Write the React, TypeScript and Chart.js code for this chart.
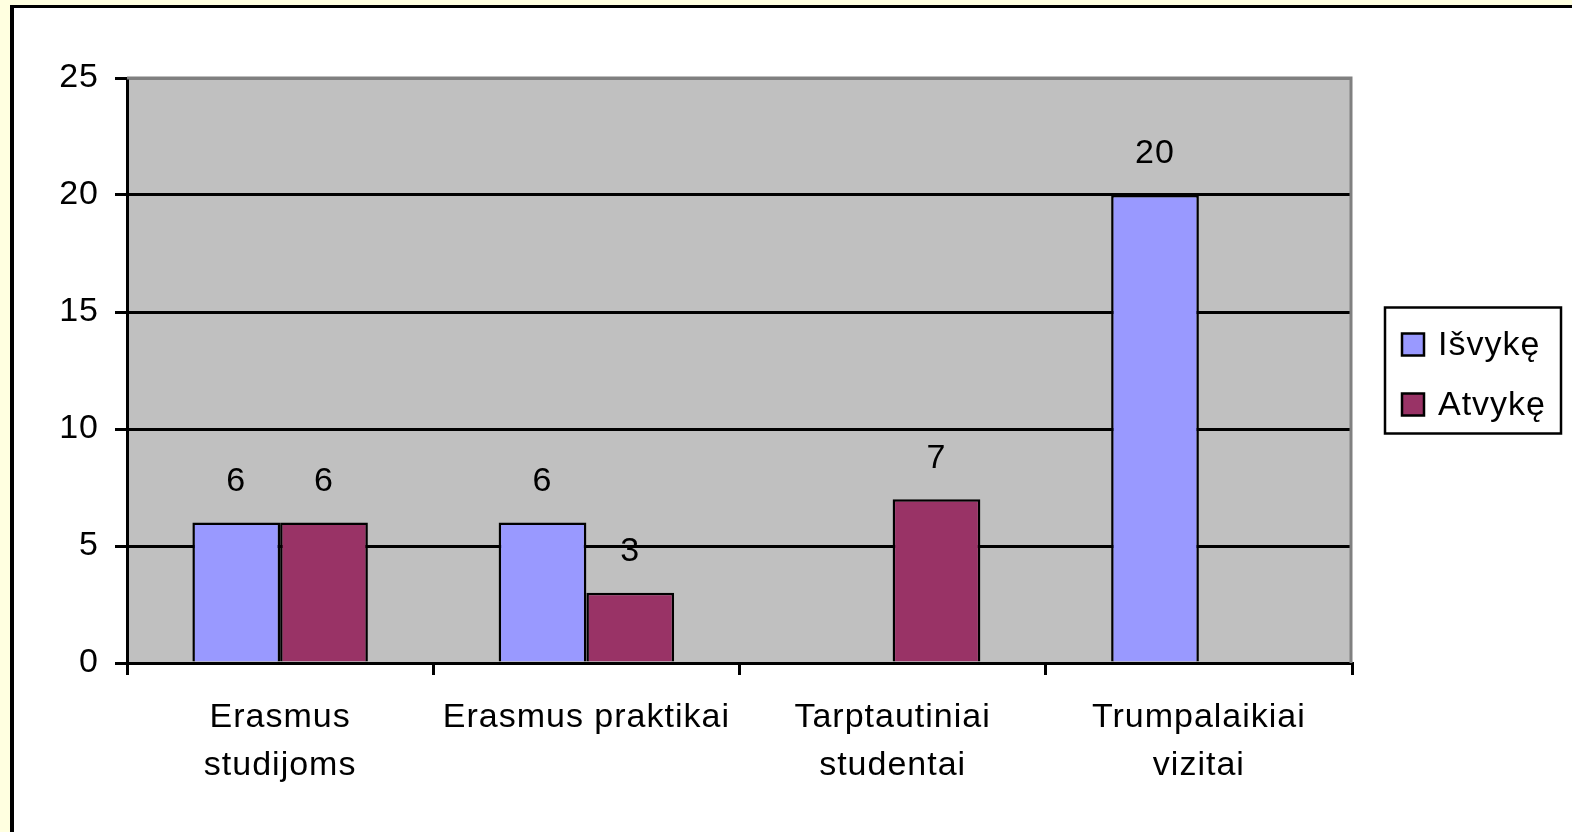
import React, { useEffect, useRef } from "react";
import { Chart, registerables } from "chart.js";

Chart.register(...registerables);

const categories: (string | string[])[] = [
  ["Erasmus", "studijoms"],
  "Erasmus praktikai",
  ["Tarptautiniai", "studentai"],
  ["Trumpalaikiai", "vizitai"],
];
const isvyke: (number | null)[] = [6, 6, null, 20];
const atvyke: (number | null)[] = [6, 3, 7, null];
const seriesNames = ["Išvykę", "Atvykę"];
const yTicks = [0, 5, 10, 15, 20, 25];

const FONT_FAMILY = "'Liberation Sans', Arial, sans-serif";
const FONT_SIZE = 34;
const SPACING = "1px";

const plotBg = {
  id: "plotBg",
  beforeDraw(chart: any) {
    const { ctx, chartArea } = chart;
    (ctx as any).letterSpacing = SPACING;
    ctx.save();
    ctx.fillStyle = "#C0C0C0";
    ctx.fillRect(chartArea.left, chartArea.top, chartArea.right - chartArea.left, chartArea.bottom - chartArea.top);
    ctx.restore();
  },
  beforeDatasetsDraw(chart: any) {
    const { ctx, chartArea } = chart;
    ctx.save();
    ctx.strokeStyle = "#808080";
    ctx.lineWidth = 3;
    ctx.beginPath();
    ctx.moveTo(chartArea.left, chartArea.top);
    ctx.lineTo(chartArea.right - 1, chartArea.top);
    ctx.lineTo(chartArea.right - 1, chartArea.bottom);
    ctx.stroke();
    ctx.restore();
  },
};

const valueLabels = {
  id: "valueLabels",
  afterDatasetsDraw(chart: any) {
    const { ctx } = chart;
    ctx.save();
    (ctx as any).letterSpacing = SPACING;
    ctx.font = `${FONT_SIZE}px ${FONT_FAMILY}`;
    ctx.fillStyle = "#000";
    ctx.textAlign = "center";
    ctx.textBaseline = "middle";
    chart.data.datasets.forEach((ds: any, i: number) => {
      const meta = chart.getDatasetMeta(i);
      meta.data.forEach((el: any, j: number) => {
        const v = ds.data[j];
        if (v === null || v === undefined) return;
        ctx.fillText(String(v), el.x, el.y - 41);
      });
    });
    ctx.restore();
  },
};

const boxLegend = {
  id: "boxLegend",
  afterDraw(chart: any) {
    const { ctx, chartArea } = chart;
    const left = chartArea.right + 33;
    const w = 176;
    const h = 126;
    const top = (chartArea.top + chartArea.bottom) / 2 - h / 2;
    ctx.save();
    ctx.fillStyle = "#fff";
    ctx.fillRect(left, top, w, h);
    ctx.strokeStyle = "#000";
    ctx.lineWidth = 2.5;
    ctx.strokeRect(left, top, w, h);
    (ctx as any).letterSpacing = SPACING;
    ctx.font = `${FONT_SIZE}px ${FONT_FAMILY}`;
    ctx.textAlign = "left";
    ctx.textBaseline = "middle";
    chart.data.datasets.forEach((ds: any, i: number) => {
      const cy = top + 37 + i * 60;
      ctx.fillStyle = ds.backgroundColor;
      ctx.fillRect(left + 17, cy - 11, 22, 22);
      ctx.strokeStyle = "#000";
      ctx.lineWidth = 2.5;
      ctx.strokeRect(left + 17, cy - 11, 22, 22);
      ctx.fillStyle = "#000";
      ctx.fillText(ds.label, left + 53, cy + 1);
    });
    ctx.restore();
  },
};

export default function App() {
  const ref = useRef<HTMLCanvasElement | null>(null);

  useEffect(() => {
    if (!ref.current) return;
    const font = { family: FONT_FAMILY, size: FONT_SIZE, lineHeight: 1.41 };
    const chart = new Chart(ref.current, {
      type: "bar",
      data: {
        labels: categories,
        datasets: [
          {
            label: seriesNames[0],
            data: isvyke,
            backgroundColor: "#9999FF",
            borderColor: "#000",
            borderWidth: 2.5,
            categoryPercentage: 0.573,
            barPercentage: 1,
          },
          {
            label: seriesNames[1],
            data: atvyke,
            backgroundColor: "#993366",
            borderColor: "#000",
            borderWidth: 2.5,
            categoryPercentage: 0.573,
            barPercentage: 1,
          },
        ],
      },
      options: {
        responsive: false,
        animation: false,
        layout: { padding: { top: 70, right: 220, left: 0, bottom: 0 } },
        plugins: {
          legend: { display: false },
          tooltip: { enabled: false },
          title: { display: false },
        },
        scales: {
          x: {
            offset: true,
            grid: {
              offset: true,
              drawOnChartArea: false,
              drawTicks: true,
              tickLength: 12,
              tickColor: "#000",
              tickWidth: 3,
              color: "#000",
              lineWidth: 3,
            },
            border: { display: true, color: "#000", width: 3 },
            ticks: { color: "#000", font, padding: 19, maxRotation: 0, autoSkip: false },
            afterFit(scale: any) {
              scale.height = 169;
            },
          },
          y: {
            min: yTicks[0],
            max: yTicks[yTicks.length - 1],
            afterBuildTicks(scale: any) {
              scale.ticks = yTicks.map((v) => ({ value: v }));
            },
            grid: {
              color: (c: any) => (c.tick && c.tick.value === 25 ? "#808080" : "#000"),
              lineWidth: 3,
              tickLength: 12,
              tickColor: "#000",
              tickWidth: 3,
            },
            border: { display: true, color: "#000", width: 3 },
            ticks: { color: "#000", font, padding: 16 },
            afterFit(scale: any) {
              scale.width = 113;
            },
          },
        },
      },
      plugins: [plotBg, valueLabels, boxLegend],
    } as any);
    return () => chart.destroy();
  }, []);

  return (
    <div style={{ position: "fixed", inset: 0, background: "#FFFFE0", overflow: "hidden" }}>
      <div
        style={{
          position: "absolute",
          left: 10,
          top: 5,
          width: 1700,
          height: 1000,
          background: "#fff",
          borderLeft: "4px solid #000",
          borderTop: "3px solid #000",
        }}
      />
      <div style={{ position: "absolute", left: 14, top: 8, width: 1558, height: 824 }}>
        <canvas ref={ref} width={1558} height={824} style={{ display: "block" }} />
      </div>
    </div>
  );
}
